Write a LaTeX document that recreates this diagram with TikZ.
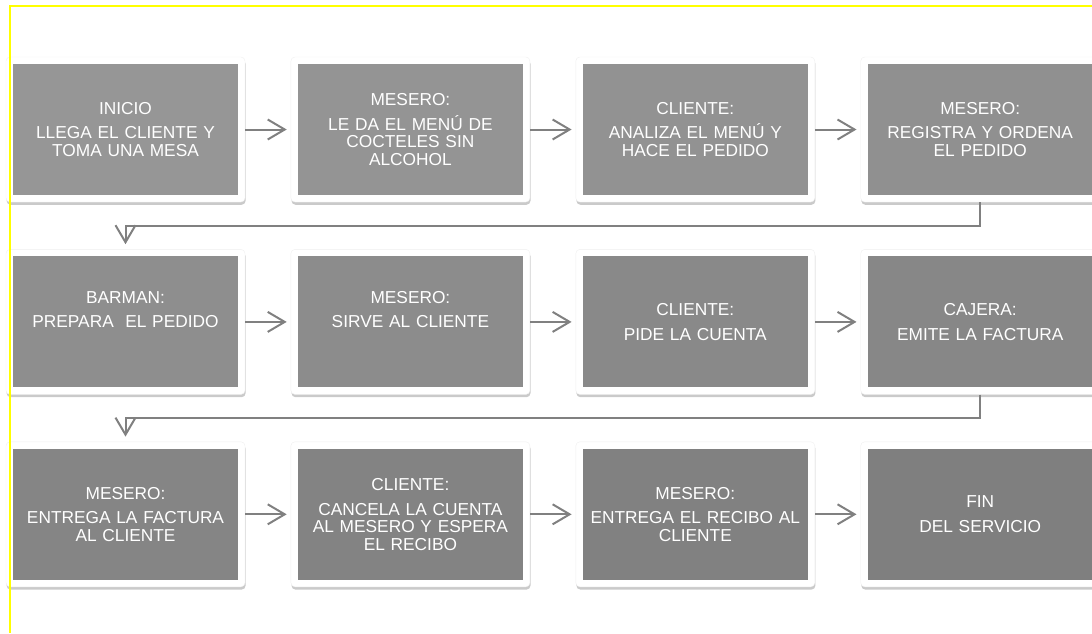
\documentclass[tikz,border=0pt]{standalone}
\usepackage{fontspec}
\setmainfont{Liberation Sans}
\usepackage{tikz}
\usetikzlibrary{arrows.meta, positioning, shadows}
\definecolor{boxfirst}{RGB}{150,150,150}
\definecolor{boxlast}{RGB}{127,127,127}
\definecolor{linegray}{RGB}{128,128,128}
\definecolor{frameyellow}{RGB}{255,255,0}
\tikzset{
  stepbox/.style={rectangle, fill=white, draw=black!6, rounded corners=4pt,
    minimum width=239pt, minimum height=145pt, inner sep=0pt,
    text width=215pt, align=center, text=white,
    font=\fontsize{17.3}{17.5}\selectfont,
    drop shadow={shadow xshift=0.6pt, shadow yshift=-2.8pt, opacity=0.42},
    path picture={\fill[boxlast!#1!boxfirst, sharp corners]
      ([shift={(7pt,7pt)}]path picture bounding box.south west) rectangle
      ([shift={(-7pt,-7pt)}]path picture bounding box.north east);}},
  arrow/.style={-{Straight Barb[length=17pt, width=20pt]}, line width=2pt,
    color=linegray, shorten >=4pt}
}

\begin{document}
\begin{tikzpicture}[x=1pt, y=-1pt, node distance=47pt and 45.5pt]
  \useasboundingbox (0,0) rectangle (1092,633);
  % first row
  \node[stepbox=0] (inicio) at (125.5,129.5) {INICIO\\[7pt]LLEGA EL CLIENTE Y\\TOMA UNA MESA};
  \node[stepbox=9, right=of inicio] (menu) {MESERO:\\[7pt]LE DA EL MENÚ DE\\COCTELES SIN\\ALCOHOL};
  \node[stepbox=18, right=of menu] (pedido) {CLIENTE:\\[7pt]ANALIZA EL MENÚ Y\\HACE EL PEDIDO};
  \node[stepbox=27, right=of pedido] (registro) {MESERO:\\[7pt]REGISTRA Y ORDENA\\EL PEDIDO};
  % second row
  \node[stepbox=36, below=of inicio] (prepara) {BARMAN:\\[7pt]PREPARA\ \ EL PEDIDO\\[7pt]\mbox{}};
  \node[stepbox=45, right=of prepara] (sirve) {MESERO:\\[7pt]SIRVE AL CLIENTE\\[7pt]\mbox{}};
  \node[stepbox=55, right=of sirve] (cuenta) {CLIENTE:\\[7pt]PIDE LA CUENTA};
  \node[stepbox=64, right=of cuenta] (factura) {CAJERA:\\[7pt]EMITE LA FACTURA};
  % third row
  \node[stepbox=73, below=of prepara] (entrega) {MESERO:\\[7pt]ENTREGA LA FACTURA\\AL CLIENTE};
  \node[stepbox=82, right=of entrega] (cancela) {CLIENTE:\\[7pt]CANCELA LA CUENTA\\AL MESERO Y ESPERA\\EL RECIBO};
  \node[stepbox=91, right=of cancela] (recibo) {MESERO:\\[7pt]ENTREGA EL RECIBO AL\\CLIENTE};
  \node[stepbox=100, right=of recibo] (fin) {FIN\\[7pt]DEL SERVICIO};
  % arrows
  \draw[arrow] (inicio) -- (menu);
  \draw[arrow] (menu) -- (pedido);
  \draw[arrow] (pedido) -- (registro);
  \draw[arrow, shorten >=5pt] (registro.south) -- ++(0,23.5) -| (prepara.north);
  \draw[arrow] (prepara) -- (sirve);
  \draw[arrow] (sirve) -- (cuenta);
  \draw[arrow] (cuenta) -- (factura);
  \draw[arrow, shorten >=5pt] (factura.south) -- ++(0,23.5) -| (entrega.north);
  \draw[arrow] (entrega) -- (cancela);
  \draw[arrow] (cancela) -- (recibo);
  \draw[arrow] (recibo) -- (fin);
  % frame
  \draw[frameyellow, line width=2pt] (10,633) -- (10,6) -- (1092,6);
\end{tikzpicture}
\end{document}
